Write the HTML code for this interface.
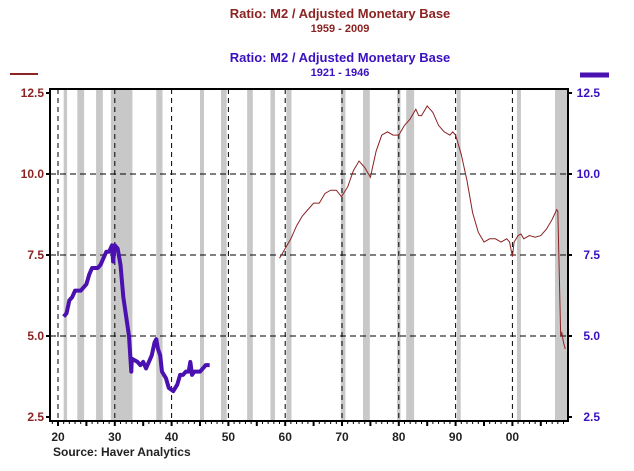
<!DOCTYPE html>
<html><head><meta charset="utf-8"><style>
body{margin:0;background:#fff;width:634px;height:471px;overflow:hidden}
svg{display:block;font-family:"Liberation Sans",sans-serif}
</style></head><body>
<svg id="c" width="634" height="471">
<text x="340" y="18" text-anchor="middle" font-size="13" font-weight="bold" fill="#8b2323">Ratio: M2 / Adjusted Monetary Base</text>
<text x="340" y="32" text-anchor="middle" font-size="11" font-weight="bold" fill="#8b2323">1959 - 2009</text>
<text x="340" y="62" text-anchor="middle" font-size="13" font-weight="bold" fill="#3a10c0">Ratio: M2 / Adjusted Monetary Base</text>
<text x="340" y="76" text-anchor="middle" font-size="11" font-weight="bold" fill="#3a10c0">1921 - 1946</text>
<line x1="10" y1="74" x2="38" y2="74" stroke="#8b2323" stroke-width="2"/>
<line x1="580" y1="75" x2="609" y2="75" stroke="#4a10b0" stroke-width="5"/>
<g id="bands"></g><g id="grid"></g><g id="axes"></g><g id="series"></g>
<text x="53" y="456" font-size="12" font-weight="bold" fill="#222">Source: Haver Analytics</text>
</svg>
<script>
const recessions=[[1921.0,1921.6],[1923.4,1924.6],[1926.7,1927.9],[1929.3,1933.1],[1937.3,1938.4],[1945.0,1945.7],[1948.7,1949.7],[1953.3,1954.3],[1957.4,1958.2],[1960.2,1961.1],[1969.8,1970.6],[1973.7,1974.9],[1979.7,1980.3],[1981.3,1982.7],[1990.2,1990.9],[2000.8,2001.5],[2007.5,2009.6]];
const blueYears=[1921,1921.5,1922,1922.5,1923,1924,1925,1925.5,1926,1927,1927.5,1928,1928.5,1929,1929.5,1929.7,1930,1930.5,1931,1931.5,1932,1932.5,1932.9,1933,1934,1934.5,1935,1935.5,1936,1936.5,1937,1937.3,1937.6,1938,1938.3,1939,1939.5,1940.3,1941,1941.5,1942,1942.5,1943,1943.3,1943.6,1944,1945,1945.5,1946,1946.7];
const blueVals=[5.6,5.7,6.1,6.2,6.4,6.4,6.6,6.9,7.1,7.1,7.2,7.4,7.6,7.6,7.8,7.3,7.8,7.7,7.2,6.2,5.6,5.0,3.9,4.3,4.2,4.1,4.2,4.0,4.2,4.4,4.8,4.9,4.6,4.4,3.9,3.7,3.4,3.3,3.5,3.8,3.8,3.9,3.9,4.2,3.8,3.9,3.9,4.0,4.1,4.1];
const redYears=[1959,1960,1961,1962,1963,1964,1965,1966,1967,1968,1969,1969.9,1971,1972,1973,1974,1975,1976,1977,1978,1979,1980,1981,1982,1983,1983.5,1984,1985,1986,1987,1988,1989,1989.5,1990,1991,1992,1993,1994,1995,1996,1997,1998,1999,1999.5,2000,2000.3,2001,2001.5,2002,2003,2004,2005,2006,2007,2007.8,2008,2008.5,2008.7,2009,2009.3];
const redVals=[7.4,7.7,8.0,8.4,8.7,8.9,9.1,9.1,9.4,9.5,9.5,9.3,9.6,10.1,10.4,10.2,9.9,10.7,11.2,11.3,11.2,11.2,11.5,11.7,12.0,11.8,11.8,12.1,11.9,11.5,11.3,11.2,11.3,11.2,10.6,9.8,8.8,8.2,7.9,8.0,8.0,7.9,8.0,7.9,7.45,7.9,8.1,8.15,8.0,8.1,8.05,8.1,8.3,8.6,8.9,8.85,5.0,5.1,4.8,4.6];
const yTicks=[2.5,5.0,7.5,10.0,12.5];
const xLabels=["20","30","40","50","60","70","80","90","00"];
const xLabelYears=[1920,1930,1940,1950,1960,1970,1980,1990,2000];
const L=50,T=89,R=568,B=421;
const x=yr=>58+(yr-1920)*5.68;
const y=v=>417-(v-2.5)*32.4;
const NS="http://www.w3.org/2000/svg";
function mk(p,t,a){const e=document.createElementNS(NS,t);for(const k in a)e.setAttribute(k,a[k]);document.getElementById(p).appendChild(e);return e;}
recessions.forEach(r=>{const e=mk('bands','rect',{x:x(r[0]),y:T,width:x(r[1])-x(r[0]),height:B-T,fill:'#c8c8c8'});

});
yTicks.slice(1,4).forEach(v=>{const e=mk('grid','line',{x1:L,x2:R,y1:y(v),y2:y(v),stroke:'#000','stroke-dasharray':'6,4'});

});
xLabelYears.forEach(yr=>{const e=mk('grid','line',{x1:x(yr),x2:x(yr),y1:T,y2:B,stroke:'#000','stroke-dasharray':'5,4'});

});
const fr=mk('axes','rect',{x:L,y:T,width:R-L,height:B-T,fill:'none',stroke:'#000','stroke-width':2});


yTicks.forEach(v=>{
mk('axes','line',{x1:L-4,x2:L,y1:y(v),y2:y(v),stroke:'#000','stroke-width':2});
mk('axes','line',{x1:R,x2:R+4,y1:y(v),y2:y(v),stroke:'#000','stroke-width':2});
const a=mk('axes','text',{x:L-6,y:y(v)+4,'text-anchor':'end','font-size':12,'font-weight':'bold',fill:'#8b2323'});a.textContent=v.toFixed(1);


const b=mk('axes','text',{x:R+32,y:y(v)+4,'text-anchor':'end','font-size':12,'font-weight':'bold',fill:'#3a10c0'});b.textContent=v.toFixed(1);

});
for(let yr=1919;yr<=2009;yr++){const m=yr%5===0;mk('axes','line',{x1:x(yr),x2:x(yr),y1:B,y2:B+(m?5:3),stroke:'#000','stroke-width':m?2:1});}
xLabels.forEach((s,i)=>{const t=mk('axes','text',{x:x(xLabelYears[i]),y:441,'text-anchor':'middle','font-size':12,'font-weight':'bold',fill:'#222'});t.textContent=s;

});
const pb=mk('series','path',{d:blueYears.map((yr,i)=>(i?'L':'M')+x(yr)+','+y(blueVals[i])).join(''),fill:'none',stroke:'#4a10b0','stroke-width':4,'stroke-linejoin':'round'});


const pr=mk('series','path',{d:redYears.map((yr,i)=>(i?'L':'M')+x(yr)+','+y(redVals[i])).join(''),fill:'none',stroke:'#8b2323','stroke-width':1});


</script>
</body></html>
